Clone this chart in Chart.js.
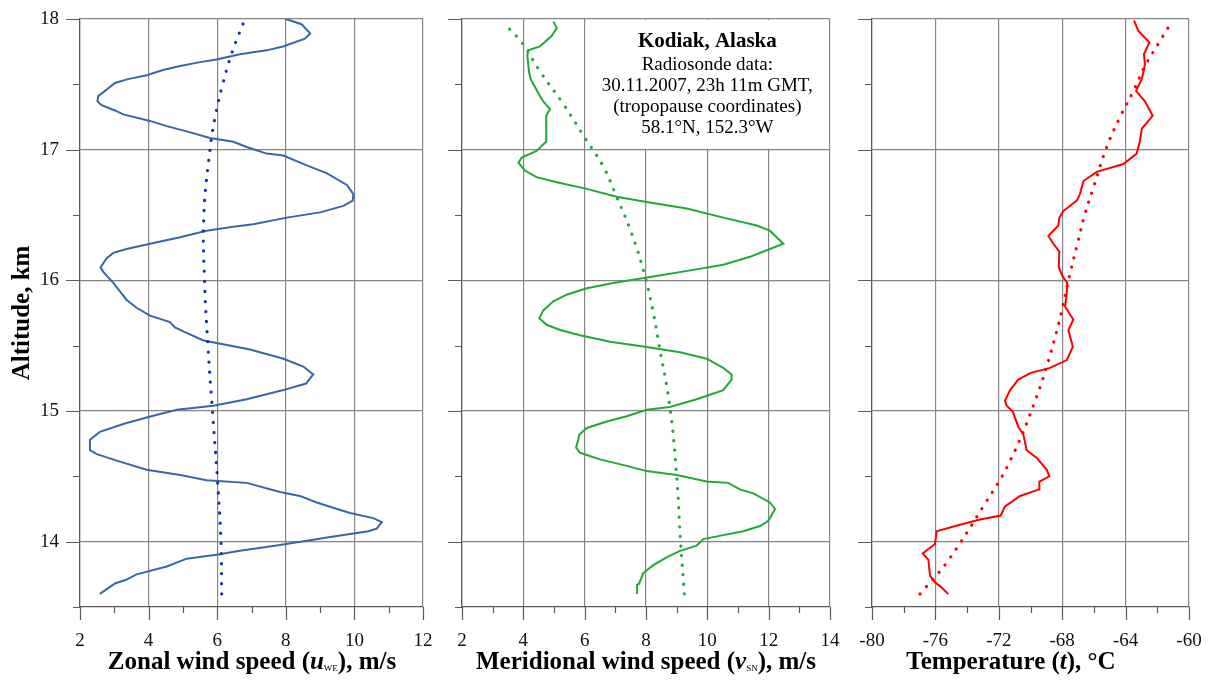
<!DOCTYPE html>
<html><head><meta charset="utf-8">
<script src="https://cdn.jsdelivr.net/npm/chart.js@4/dist/chart.umd.min.js"></script>
<style>
html,body{margin:0;padding:0;background:#fff;width:1209px;height:682px;overflow:hidden}
canvas{position:absolute;top:0}
</style></head><body>
<canvas id="c1" width="440" height="682" style="left:0px"></canvas>
<canvas id="c2" width="400" height="682" style="left:440px"></canvas>
<canvas id="c3" width="369" height="682" style="left:840px"></canvas>
<script>
// ---------- DATA ----------
const altitudeTicks = [14, 15, 16, 17, 18];
const altitudeMinor = [13.5, 14.5, 15.5, 16.5, 17.5];

const zonalTicks = [2, 4, 6, 8, 10, 12];
const zonalMinor = [3, 5, 7, 9, 11];
const meridTicks = [2, 4, 6, 8, 10, 12, 14];
const meridMinor = [3, 5, 7, 9, 11, 13];
const tempTicks = [-80, -76, -72, -68, -64, -60];
const tempMinor = [-78, -74, -70, -66, -62];

const zonalAlt = [13.60,13.68,13.71,13.75,13.81,13.87,13.90,13.93,13.97,14.01,14.04,14.08,14.10,14.15,14.18,14.22,14.30,14.35,14.38,14.45,14.47,14.51,14.55,14.62,14.67,14.70,14.78,14.84,14.90,14.95,15.01,15.04,15.09,15.16,15.21,15.28,15.34,15.40,15.47,15.54,15.61,15.64,15.68,15.73,15.79,15.85,15.98,16.065,16.10,16.17,16.21,16.24,16.28,16.33,16.38,16.41,16.43,16.48,16.52,16.57,16.61,16.66,16.73,16.82,16.88,16.955,16.97,17.02,17.06,17.09,17.14,17.18,17.22,17.27,17.30,17.34,17.37,17.41,17.46,17.51,17.54,17.57,17.61,17.64,17.67,17.69,17.73,17.76,17.79,17.85,17.89,17.96,18.00];
const zonalSpeed = [2.58,3.02,3.36,3.65,4.53,5.11,5.98,6.66,7.73,8.71,9.39,10.41,10.65,10.80,10.55,9.87,8.90,8.41,7.83,6.86,5.69,4.92,3.94,3.07,2.49,2.29,2.29,2.58,3.26,3.94,4.82,5.89,6.86,7.93,8.59,8.80,8.51,7.93,6.96,5.60,5.01,4.77,4.62,4.04,3.65,3.36,2.97,2.68,2.60,2.78,2.97,3.36,4.04,4.92,5.69,6.47,7.05,8.03,9.00,9.68,9.95,9.97,9.78,9.19,8.61,7.93,7.44,6.86,6.47,5.79,5.11,4.53,4.04,3.26,3.02,2.63,2.51,2.53,2.78,3.02,3.40,3.94,4.42,4.92,5.50,5.98,6.66,7.44,7.92,8.56,8.71,8.46,8.00];
const zonalTrendAlt = [13.6,14.0,14.5,15.0,15.5,16.0,16.5,17.0,17.25,17.5,17.75,18.0];
const zonalTrend = [6.13,6.11,6.00,5.86,5.73,5.63,5.61,5.79,5.94,6.16,6.44,6.81];

const meridAlt = [13.60,13.67,13.68,13.76,13.82,13.88,13.93,13.97,14.02,14.05,14.08,14.12,14.16,14.25,14.30,14.37,14.40,14.45,14.46,14.51,14.54,14.58,14.63,14.68,14.72,14.78,14.82,14.87,14.92,14.96,15.01,15.03,15.09,15.16,15.24,15.28,15.33,15.40,15.45,15.49,15.53,15.58,15.62,15.66,15.71,15.77,15.84,15.89,15.94,15.98,16.03,16.08,16.12,16.18,16.24,16.28,16.38,16.42,16.48,16.55,16.60,16.64,16.70,16.75,16.79,16.84,16.90,16.94,16.99,17.06,17.13,17.20,17.26,17.31,17.37,17.41,17.48,17.54,17.59,17.65,17.72,17.76,17.79,17.87,17.93,17.98];
const meridSpeed = [7.71,7.71,7.78,7.91,8.24,8.67,9.11,9.65,9.87,10.52,11.17,11.72,11.99,12.21,12.04,11.50,11.06,10.68,9.98,9.00,8.02,7.37,6.50,5.85,5.72,5.79,5.83,6.07,6.72,7.37,8.02,8.78,9.65,10.52,10.79,10.79,10.52,9.98,9.11,8.02,6.83,5.85,5.20,4.76,4.52,4.65,4.98,5.41,6.07,6.93,8.24,9.54,10.52,11.39,12.04,12.48,12.04,11.61,10.52,9.33,8.02,7.04,6.07,5.09,4.43,4.05,3.84,3.95,4.43,4.74,4.74,4.76,4.74,4.87,4.65,4.54,4.38,4.24,4.19,4.16,4.13,4.16,4.54,4.92,5.09,4.98];
const meridTrendAlt = [13.6,13.99,14.5,15.03,15.54,15.75,16.03,16.36,16.64,16.87,17.09,17.35,17.6,17.82,17.97];
const meridTrend = [9.25,9.13,9.00,8.78,8.40,8.24,7.97,7.53,7.04,6.61,6.01,5.30,4.54,3.95,3.35];

const tempAlt = [13.60,13.66,13.69,13.74,13.86,13.91,13.95,13.98,14.08,14.13,14.17,14.20,14.27,14.35,14.40,14.46,14.50,14.55,14.64,14.70,14.82,14.88,14.995,15.04,15.08,15.16,15.24,15.29,15.33,15.39,15.49,15.62,15.70,15.80,15.90,15.98,16.03,16.10,16.22,16.28,16.34,16.42,16.48,16.53,16.61,16.66,16.76,16.83,16.89,16.97,17.07,17.16,17.26,17.37,17.45,17.54,17.65,17.73,17.82,17.91,17.99];
const temperature = [-75.19,-75.71,-76.03,-76.34,-76.44,-76.80,-76.38,-76.03,-75.92,-74.45,-73.19,-71.88,-71.61,-70.66,-69.46,-69.44,-68.81,-68.97,-69.60,-70.24,-70.45,-70.77,-71.12,-71.50,-71.61,-71.29,-70.77,-70.03,-68.77,-67.71,-67.33,-67.61,-67.30,-67.82,-67.71,-67.68,-67.97,-68.22,-68.18,-68.56,-68.87,-68.24,-68.18,-67.93,-67.08,-66.88,-66.66,-65.82,-64.14,-63.30,-63.09,-62.98,-62.29,-62.78,-63.34,-62.98,-62.78,-62.84,-62.50,-63.20,-63.47];
const tempTrendAlt = [13.6,13.84,14.27,14.6,15.09,15.59,16.05,16.26,16.51,16.71,17.02,17.25,17.45,17.64,17.81,17.97];
const tempTrend = [-76.97,-75.29,-72.98,-71.36,-69.67,-68.39,-67.51,-67.08,-66.56,-66.03,-65.19,-64.35,-63.50,-62.78,-61.94,-61.14];

const infoLines = ["Kodiak, Alaska", "Radiosonde data:", "30.11.2007, 23h 11m GMT,", "(tropopause coordinates)", "58.1°N, 152.3°W"];

// ---------- STYLE ----------
const FONT = '"Liberation Serif", "Times New Roman", serif';
const GRID = '#858585';
const AXIS = '#5a5a5a';
Chart.defaults.font.family = FONT;

function pts(alts, vals) { return alts.map((a, i) => ({ x: vals[i], y: a })); }
function solid(alts, vals, color) {
  return { data: pts(alts, vals), borderColor: color, borderWidth: 2, pointRadius: 0, tension: 0, fill: false };
}
function dotted(alts, vals, color, gap) {
  return { data: pts(alts, vals), borderColor: color, borderWidth: 3.2, pointRadius: 0, tension: 0.4,
           borderDash: [0.1, gap], borderCapStyle: 'round', fill: false };
}

function drawSegments(ctx, segs, cx, baseline) {
  let total = 0;
  segs.forEach(s => { ctx.font = s.f; s.w = ctx.measureText(s.t).width; total += s.w; });
  let x = cx - total / 2;
  ctx.fillStyle = '#000'; ctx.textAlign = 'left'; ctx.textBaseline = 'alphabetic';
  segs.forEach(s => { ctx.font = s.f; ctx.fillText(s.t, x, baseline + (s.dy || 0)); x += s.w; });
}

function decoPlugin(o) {
  return {
    id: 'deco',
    beforeDatasetsDraw(chart) {
      if (!o.box) return;
      const ctx = chart.ctx, xs = chart.scales.x, ys = chart.scales.y;
      const x0 = xs.getPixelForValue(o.box.x0), x1 = xs.getPixelForValue(o.box.x1);
      const y0 = ys.getPixelForValue(o.box.y1), y1 = ys.getPixelForValue(o.box.y0);
      ctx.save();
      ctx.fillStyle = '#fff';
      ctx.fillRect(x0 + 1, y0 + 1, x1 - x0 - 2, y1 - y0 - 2);
      const cx = (x0 + x1) / 2;
      ctx.fillStyle = '#000'; ctx.textAlign = 'center'; ctx.textBaseline = 'alphabetic';
      const base = [47, 70, 91, 112, 133];
      infoLines.forEach((t, i) => {
        ctx.font = (i === 0 ? 'bold 21px ' : '19px ') + FONT;
        ctx.fillText(t, cx, base[i]);
      });
      ctx.restore();
    },
    afterDraw(chart) {
      const ctx = chart.ctx, xs = chart.scales.x, ys = chart.scales.y, a = chart.chartArea;
      ctx.save();
      ctx.strokeStyle = AXIS; ctx.lineWidth = 1.2;
      ctx.beginPath();
      o.xTicks.forEach(v => { const p = Math.round(xs.getPixelForValue(v)) + 0.5; ctx.moveTo(p, a.bottom); ctx.lineTo(p, a.bottom + 13); });
      o.xMinor.forEach(v => { const p = Math.round(xs.getPixelForValue(v)) + 0.5; ctx.moveTo(p, a.bottom); ctx.lineTo(p, a.bottom + 6); });
      altitudeTicks.forEach(v => { const p = Math.round(ys.getPixelForValue(v)) + 0.5; ctx.moveTo(a.left, p); ctx.lineTo(a.left - 14, p); });
      altitudeMinor.forEach(v => { const p = Math.round(ys.getPixelForValue(v)) + 0.5; ctx.moveTo(a.left, p); ctx.lineTo(a.left - 7, p); });
      ctx.stroke();
      drawSegments(ctx, o.title, o.titleX, 669);
      if (o.yTitle) {
        ctx.translate(23, (a.top + a.bottom) / 2);
        ctx.rotate(-Math.PI / 2);
        ctx.font = 'bold 25px ' + FONT; ctx.textAlign = 'center'; ctx.textBaseline = 'middle'; ctx.fillStyle = '#000';
        ctx.fillText('Altitude, km', 0, 0);
      }
      ctx.restore();
    }
  };
}

function makeChart(id, o) {
  return new Chart(document.getElementById(id), {
    type: 'line',
    data: { datasets: o.datasets },
    options: {
      responsive: false, animation: false, events: [],
      layout: { padding: { left: 0, right: o.padRight, top: 19, bottom: 0 } },
      plugins: { legend: { display: false }, tooltip: { enabled: false } },
      scales: {
        x: {
          type: 'linear', min: o.xMin, max: o.xMax,
          afterBuildTicks: s => { s.ticks = o.xTicks.map(v => ({ value: v })); },
          afterFit: s => { s.height = 75; },
          grid: { color: GRID, lineWidth: 1.2, drawTicks: true, tickLength: 23, tickColor: 'rgba(0,0,0,0)' },
          border: { color: AXIS, width: 1.2 },
          ticks: { padding: 0, font: { size: 19, family: FONT }, color: '#111', maxRotation: 0, autoSkip: false, callback: v => String(v) }
        },
        y: {
          type: 'linear', min: 13.5, max: 18,
          afterBuildTicks: s => { s.ticks = altitudeTicks.map(v => ({ value: v })); },
          afterFit: s => { s.width = o.yWidth; },
          grid: { color: GRID, lineWidth: 1.2, drawTicks: true, tickLength: 21, tickColor: 'rgba(0,0,0,0)' },
          border: { color: AXIS, width: 1.2 },
          ticks: { display: o.yLabels, padding: 0, font: { size: 19, family: FONT }, color: '#111', callback: v => String(v) }
        }
      }
    },
    plugins: [decoPlugin(o)]
  });
}

const B = 'bold 25px ' + FONT, BI = 'italic bold 25px ' + FONT, SUB = '9px ' + FONT;

makeChart('c1', {
  xMin: 2, xMax: 12, xTicks: zonalTicks, xMinor: zonalMinor, yWidth: 80, padRight: 17, yLabels: true, yTitle: true,
  titleX: 252,
  title: [{ t: 'Zonal wind speed (', f: B }, { t: 'u', f: BI }, { t: 'WE', f: SUB, dy: 2 }, { t: '), m/s', f: B }],
  datasets: [dotted(zonalTrendAlt, zonalTrend, '#1235a8', 10), solid(zonalAlt, zonalSpeed, '#3767a6')]
});
makeChart('c2', {
  xMin: 2, xMax: 14, xTicks: meridTicks, xMinor: meridMinor, yWidth: 22, padRight: 10, yLabels: false,
  titleX: 206,
  title: [{ t: 'Meridional wind speed (', f: B }, { t: 'v', f: BI }, { t: 'SN', f: SUB, dy: 2 }, { t: '), m/s', f: B }],
  box: { x0: 6, x1: 14, y0: 17, y1: 18 },
  datasets: [dotted(meridTrendAlt, meridTrend, '#1fa83c', 9.5), solid(meridAlt, meridSpeed, '#22a83a')]
});
makeChart('c3', {
  xMin: -80, xMax: -60, xTicks: tempTicks, xMinor: tempMinor, yWidth: 32, padRight: 20, yLabels: false,
  titleX: 171,
  title: [{ t: 'Temperature (', f: B }, { t: 't', f: BI }, { t: '), °C', f: B }],
  datasets: [dotted(tempTrendAlt, tempTrend, '#ff0000', 9.5), solid(tempAlt, temperature, '#ff0000')]
});
</script>
</body></html>
